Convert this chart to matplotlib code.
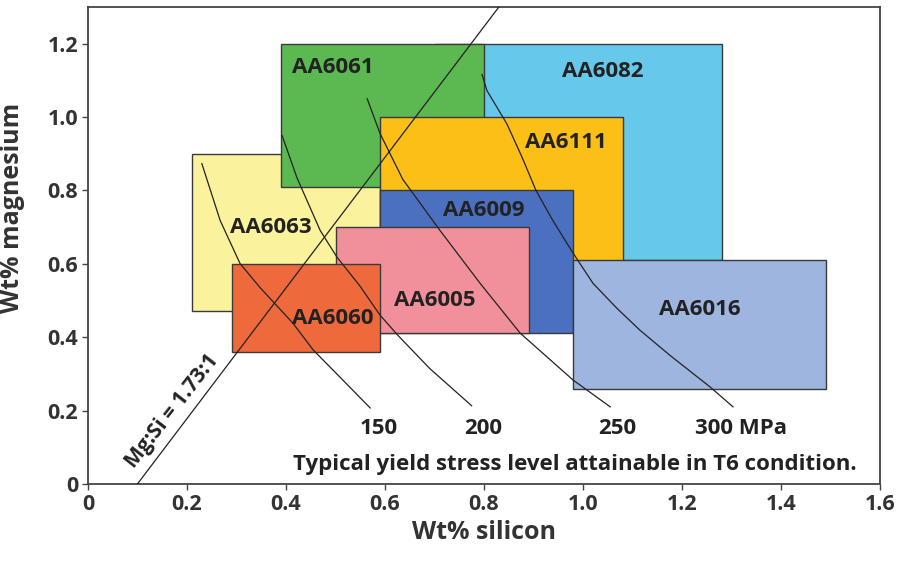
import numpy as np
import matplotlib.pyplot as plt
from matplotlib.patches import Rectangle

plt.rcParams['font.family'] = ['Open Sans', 'DejaVu Sans']
plt.rcParams['font.weight'] = 'bold'

# Alloy composition windows (wt% Si range, wt% Mg range), drawn back to front
alloys = ["AA6082", "AA6063", "AA6061", "AA6111", "AA6009", "AA6016", "AA6005", "AA6060"]
si_min = [0.70, 0.21, 0.39, 0.59, 0.59, 0.98, 0.50, 0.29]
si_max = [1.28, 0.59, 0.80, 1.08, 0.98, 1.49, 0.89, 0.59]
mg_min = [0.61, 0.47, 0.81, 0.50, 0.41, 0.26, 0.41, 0.36]
mg_max = [1.20, 0.90, 1.20, 1.00, 0.80, 0.61, 0.70, 0.60]
colors = ["#66c8ea", "#faf29c", "#5cb851", "#fbbf16", "#4a70bf", "#9db5df", "#f1909a", "#ee6a3c"]

# label positions for each alloy (data coords)
label_x = [1.04, 0.37, 0.495, 0.965, 0.80, 1.235, 0.70, 0.495]
label_y = [1.125, 0.70, 1.135, 0.93, 0.745, 0.475, 0.50, 0.45]

# yield stress iso-lines
ys150_si = [0.230, 0.267, 0.307, 0.347, 0.414, 0.455, 0.509, 0.570]
ys150_mg = [0.873, 0.718, 0.601, 0.536, 0.438, 0.365, 0.291, 0.207]
ys200_si = [0.392, 0.422, 0.469, 0.503, 0.549, 0.590, 0.626, 0.690, 0.775]
ys200_mg = [0.950, 0.835, 0.691, 0.618, 0.540, 0.460, 0.405, 0.315, 0.213]
ys250_si = [0.564, 0.590, 0.636, 0.711, 0.792, 0.873, 0.980, 1.055]
ys250_mg = [1.050, 0.955, 0.830, 0.691, 0.547, 0.411, 0.283, 0.210]
ys300_si = [0.796, 0.806, 0.846, 0.877, 0.905, 0.939, 0.980, 1.020, 1.069, 1.115, 1.176, 1.257, 1.303]
ys300_mg = [1.116, 1.072, 0.982, 0.890, 0.800, 0.718, 0.629, 0.547, 0.478, 0.419, 0.350, 0.264, 0.210]
stress_labels = ["150", "200", "250", "300 MPa"]
stress_label_x = [0.588, 0.798, 1.07, 1.32]

# Mg:Si = 1.73:1 line
ratio_si = [0.10, 0.83]
ratio_mg = [0.0, 1.30]

x_ticks = [0, 0.2, 0.4, 0.6, 0.8, 1.0, 1.2, 1.4, 1.6]
x_tick_labels = ["0", "0.2", "0.4", "0.6", "0.8", "1.0", "1.2", "1.4", "1.6"]
y_ticks = [0, 0.2, 0.4, 0.6, 0.8, 1.0, 1.2]
y_tick_labels = ["0", "0.2", "0.4", "0.6", "0.8", "1.0", "1.2"]

fig = plt.figure(figsize=(9.11, 5.62), dpi=100)
ax = fig.add_axes([0.0966, 0.139, 0.8694, 0.8485])

for i in range(len(alloys)):
    rect = Rectangle((si_min[i], mg_min[i]), si_max[i] - si_min[i], mg_max[i] - mg_min[i],
                     facecolor=colors[i], edgecolor="#3a3a3a", linewidth=1.0, zorder=2 + i)
    ax.add_patch(rect)

for i in range(len(alloys)):
    ax.text(label_x[i], label_y[i], alloys[i], fontsize=16, fontweight="bold",
            color="#222222", ha="center", va="center", zorder=20)

for sx, sy in [(ys150_si, ys150_mg), (ys200_si, ys200_mg), (ys250_si, ys250_mg), (ys300_si, ys300_mg)]:
    ax.plot(sx, sy, color="#222222", linewidth=0.9, zorder=15)

ax.plot(ratio_si, ratio_mg, color="#222222", linewidth=0.9, zorder=15)
ax.text(0.170, 0.197, "Mg:Si = 1.73:1", fontsize=15, fontweight="bold", color="#222222",
        rotation=52, ha="center", va="center", rotation_mode="anchor", zorder=20)

for i in range(len(stress_labels)):
    ax.text(stress_label_x[i], 0.152, stress_labels[i], fontsize=16, fontweight="bold",
            color="#222222", ha="center", va="center", zorder=20)

ax.text(0.984, 0.054, "Typical yield stress level attainable in T6 condition.", fontsize=16,
        fontweight="bold", color="#222222", ha="center", va="center", zorder=20)

ax.set_xlim(0, 1.6)
ax.set_ylim(0, 1.3)
ax.set_xticks(x_ticks)
ax.set_xticklabels(x_tick_labels)
ax.set_yticks(y_ticks)
ax.set_yticklabels(y_tick_labels)
ax.tick_params(direction="out", length=4, width=1, colors="#444444", labelsize=15.5,
               labelcolor="#333333", pad=3)
for s in ax.spines.values():
    s.set_color("#444444")
    s.set_linewidth(1.3)

ax.set_xlabel("Wt% silicon", fontsize=18, fontweight="bold", color="#333333", labelpad=4)
ax.set_ylabel("Wt% magnesium", fontsize=18, fontweight="bold", color="#333333")
ax.yaxis.set_label_coords(-0.08, 0.579)

fig.savefig("out.png", dpi=100)
